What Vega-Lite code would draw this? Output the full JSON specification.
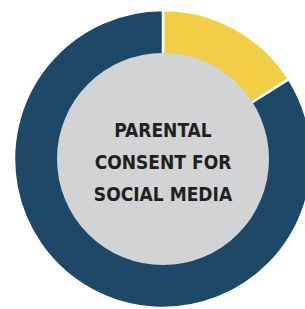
{
  "$schema": "https://vega.github.io/schema/vega-lite/v6.json",
  "width": 326,
  "height": 318,
  "padding": 0,
  "autosize": {"type": "none"},
  "background": "white",
  "config": {"view": {"stroke": null}},
  "datasets": {
    "slices": [
      {"answer": "Yes", "share": 16, "order": 1},
      {"answer": "No", "share": 84, "order": 2}
    ],
    "center": [
      {"label": "PARENTAL\nCONSENT FOR\nSOCIAL MEDIA"}
    ]
  },
  "layer": [
    {
      "data": {"name": "slices"},
      "mark": {"type": "arc", "outerRadius": 149, "innerRadius": 103, "stroke": "white", "strokeWidth": 2.5},
      "encoding": {
        "theta": {"field": "share", "type": "quantitative", "stack": true},
        "order": {"field": "order", "type": "quantitative"},
        "color": {
          "field": "answer",
          "type": "nominal",
          "scale": {"domain": ["Yes", "No"], "range": ["#f2cd46", "#1d4867"]},
          "legend": null
        }
      }
    },
    {
      "data": {"name": "center"},
      "mark": {"type": "arc", "outerRadius": 106, "innerRadius": 0, "theta": 6.2832, "fill": "#d1d3d4"},
      "encoding": {}
    },
    {
      "data": {"name": "center"},
      "mark": {
        "type": "text",
        "font": "DejaVu Sans Condensed, DejaVu Sans, sans-serif",
        "fontWeight": "bold",
        "fontSize": 19,
        "lineHeight": 32,
        "lineBreak": "\n",
        "align": "center",
        "baseline": "middle",
        "dy": -28,
        "color": "#231f20"
      },
      "encoding": {"text": {"field": "label"}}
    }
  ]
}
